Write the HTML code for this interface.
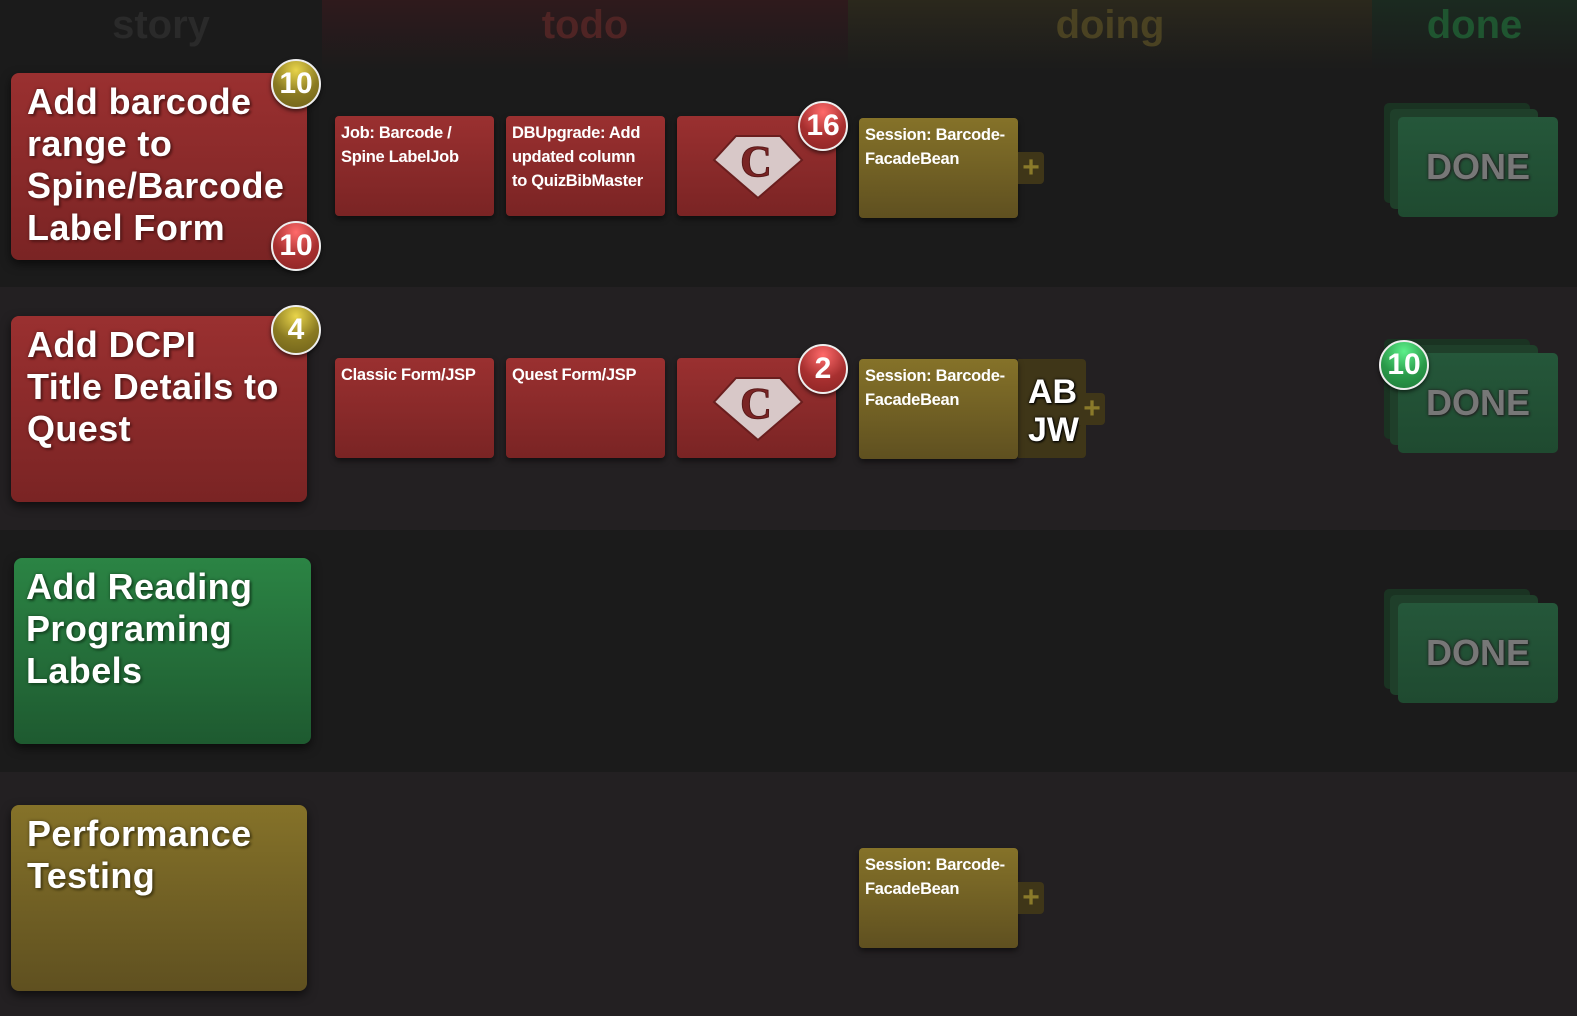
<!DOCTYPE html>
<html><head><meta charset="utf-8"><style>
*{margin:0;padding:0;box-sizing:border-box}
body{width:1577px;height:1016px;background:#1b1b1b;position:relative;overflow:hidden;font-family:"Liberation Sans",sans-serif}
.a{position:absolute}
.row{position:absolute;left:0;width:1577px}
.h{position:absolute;top:0;height:70px;text-align:center;font-size:40px;font-weight:bold;line-height:50px}
.story{position:absolute;border-radius:8px;color:#fff;font-weight:bold;font-size:36px;line-height:42px;padding:8px 0 0 16px;letter-spacing:0.4px;white-space:nowrap;box-shadow:0 4px 10px rgba(0,0,0,.6)}
.red{background:linear-gradient(#9a3030,#7a2424)}
.grn{background:linear-gradient(#2b8444,#1e5a30)}
.olv{background:linear-gradient(#857229,#5f5020)}
.task{position:absolute;width:159px;height:100px;border-radius:4px;color:#fff;font-weight:bold;font-size:16.5px;line-height:24px;padding:5px 12px 5px 6px;box-shadow:0 3px 6px rgba(0,0,0,.5);letter-spacing:-0.3px}
.badge{position:absolute;width:50px;height:50px;border-radius:50%;border:2px solid #eee;color:#fff;font-weight:bold;font-size:30px;line-height:46px;text-align:center;box-shadow:0 2px 4px rgba(0,0,0,.6)}
.bo{background:radial-gradient(circle at 50% 20%,#e8d44a,#8a7a22 55%,#6e601a)}
.br{background:radial-gradient(circle at 50% 20%,#ff6a6a,#a83030 55%,#8a2424)}
.bg{background:radial-gradient(circle at 50% 20%,#5cf08a,#2a9a4a 55%,#1f7a3a)}
.plus{position:absolute;width:26px;height:32px;background:#3f3618;border-radius:0 4px 4px 0;color:#8a7a2a;font-size:30px;font-weight:bold;line-height:32px;text-align:center}
.done{position:absolute;width:160px;height:100px}
.done div{position:absolute;border-radius:5px}
.dt{color:#777;font-weight:bold;font-size:36px;line-height:100px;text-align:center;text-shadow:0 0 3px #222,1px 1px 2px #222}
</style></head><body>
<div class="row" style="top:287px;height:243px;background:#232022"></div>
<div class="row" style="top:772px;height:244px;background:#232022"></div>
<div class="h" style="left:0;width:322px;color:#2a2a2a">story</div>
<div class="h" style="left:322px;width:526px;background:linear-gradient(#2f1a1c,#1b1b1b);color:#4f2424">todo</div>
<div class="h" style="left:848px;width:524px;background:linear-gradient(#2b281c,#1b1b1b);color:#4a4222">doing</div>
<div class="h" style="left:1372px;width:205px;background:linear-gradient(#1b2a20,#1b1b1b);color:#1f5530">done</div>

<div class="story red" style="left:11px;top:73px;width:296px;height:187px;text-shadow:0 0 3px #5a1a1a,2px 2px 2px #5a1a1a">Add barcode<br>range to<br>Spine/Barcode<br>Label Form</div>
<div class="story red" style="left:11px;top:316px;width:296px;height:186px;text-shadow:0 0 3px #5a1a1a,2px 2px 2px #5a1a1a">Add DCPI<br>Title Details to<br>Quest</div>
<div class="story grn" style="left:14px;top:558px;width:297px;height:186px;padding-left:12px;text-shadow:0 0 3px #174a25,2px 2px 2px #174a25">Add Reading<br>Programing<br>Labels</div>
<div class="story olv" style="left:11px;top:805px;width:296px;height:186px;text-shadow:0 0 3px #4a3f15,2px 2px 2px #4a3f15">Performance<br>Testing</div>

<div class="badge bo" style="left:271px;top:59px">10</div>
<div class="badge br" style="left:271px;top:221px">10</div>
<div class="badge bo" style="left:271px;top:305px">4</div>

<div class="task red" style="left:335px;top:116px">Job: Barcode / Spine LabelJob</div>
<div class="task red" style="left:506px;top:116px;padding-right:16px">DBUpgrade: Add updated column to QuizBibMaster</div>
<div class="task red" style="left:677px;top:116px"></div>
<div class="task red" style="left:335px;top:358px">Classic Form/JSP</div>
<div class="task red" style="left:506px;top:358px">Quest Form/JSP</div>
<div class="task red" style="left:677px;top:358px"></div>

<svg class="a" style="left:712px;top:132px" width="92" height="68" viewBox="0 0 92 68"><polygon points="2,28 24,4 68,4 90,28 46,66" fill="#d8c8c8" stroke="#6a1e1e" stroke-width="2"/><text x="44" y="44" text-anchor="middle" font-family="Liberation Serif,serif" font-weight="bold" font-size="44" fill="#7a2424" stroke="#5a1a1a" stroke-width="1">C</text></svg>
<svg class="a" style="left:712px;top:374px" width="92" height="68" viewBox="0 0 92 68"><polygon points="2,28 24,4 68,4 90,28 46,66" fill="#d8c8c8" stroke="#6a1e1e" stroke-width="2"/><text x="44" y="44" text-anchor="middle" font-family="Liberation Serif,serif" font-weight="bold" font-size="44" fill="#7a2424" stroke="#5a1a1a" stroke-width="1">C</text></svg>
<div class="badge br" style="left:798px;top:101px">16</div>
<div class="badge br" style="left:798px;top:344px">2</div>

<div class="task olv" style="left:859px;top:118px">Session: Barcode-FacadeBean</div>
<div class="plus" style="left:1018px;top:152px">+</div>
<div class="a" style="left:1018px;top:359px;width:68px;height:99px;background:#3f3618;border-radius:0 4px 4px 0;color:#fff;font-weight:bold;font-size:34px;line-height:38px;padding:14px 0 0 10px;text-shadow:0 0 3px #000,1px 1px 2px #000">AB<br>JW</div>
<div class="task olv" style="left:859px;top:359px">Session: Barcode-FacadeBean</div>
<div class="plus" style="left:1079px;top:393px;width:26px">+</div>
<div class="task olv" style="left:859px;top:848px">Session: Barcode-FacadeBean</div>
<div class="plus" style="left:1018px;top:882px">+</div>

<div class="done" style="left:1398px;top:117px"><div style="left:-14px;top:-14px;width:146px;height:100px;background:#1a3322"></div><div style="left:-8px;top:-8px;width:148px;height:100px;background:#1f3f2a"></div><div class="dt" style="left:0;top:0;width:160px;height:100px;background:linear-gradient(#25573a,#1f4a30)">DONE</div></div>
<div class="done" style="left:1398px;top:353px"><div style="left:-14px;top:-14px;width:146px;height:100px;background:#1a3322"></div><div style="left:-8px;top:-8px;width:148px;height:100px;background:#1f3f2a"></div><div class="dt" style="left:0;top:0;width:160px;height:100px;background:linear-gradient(#25573a,#1f4a30)">DONE</div></div>
<div class="done" style="left:1398px;top:603px"><div style="left:-14px;top:-14px;width:146px;height:100px;background:#1a3322"></div><div style="left:-8px;top:-8px;width:148px;height:100px;background:#1f3f2a"></div><div class="dt" style="left:0;top:0;width:160px;height:100px;background:linear-gradient(#25573a,#1f4a30)">DONE</div></div>
<div class="badge bg" style="left:1379px;top:340px">10</div>
</body></html>
